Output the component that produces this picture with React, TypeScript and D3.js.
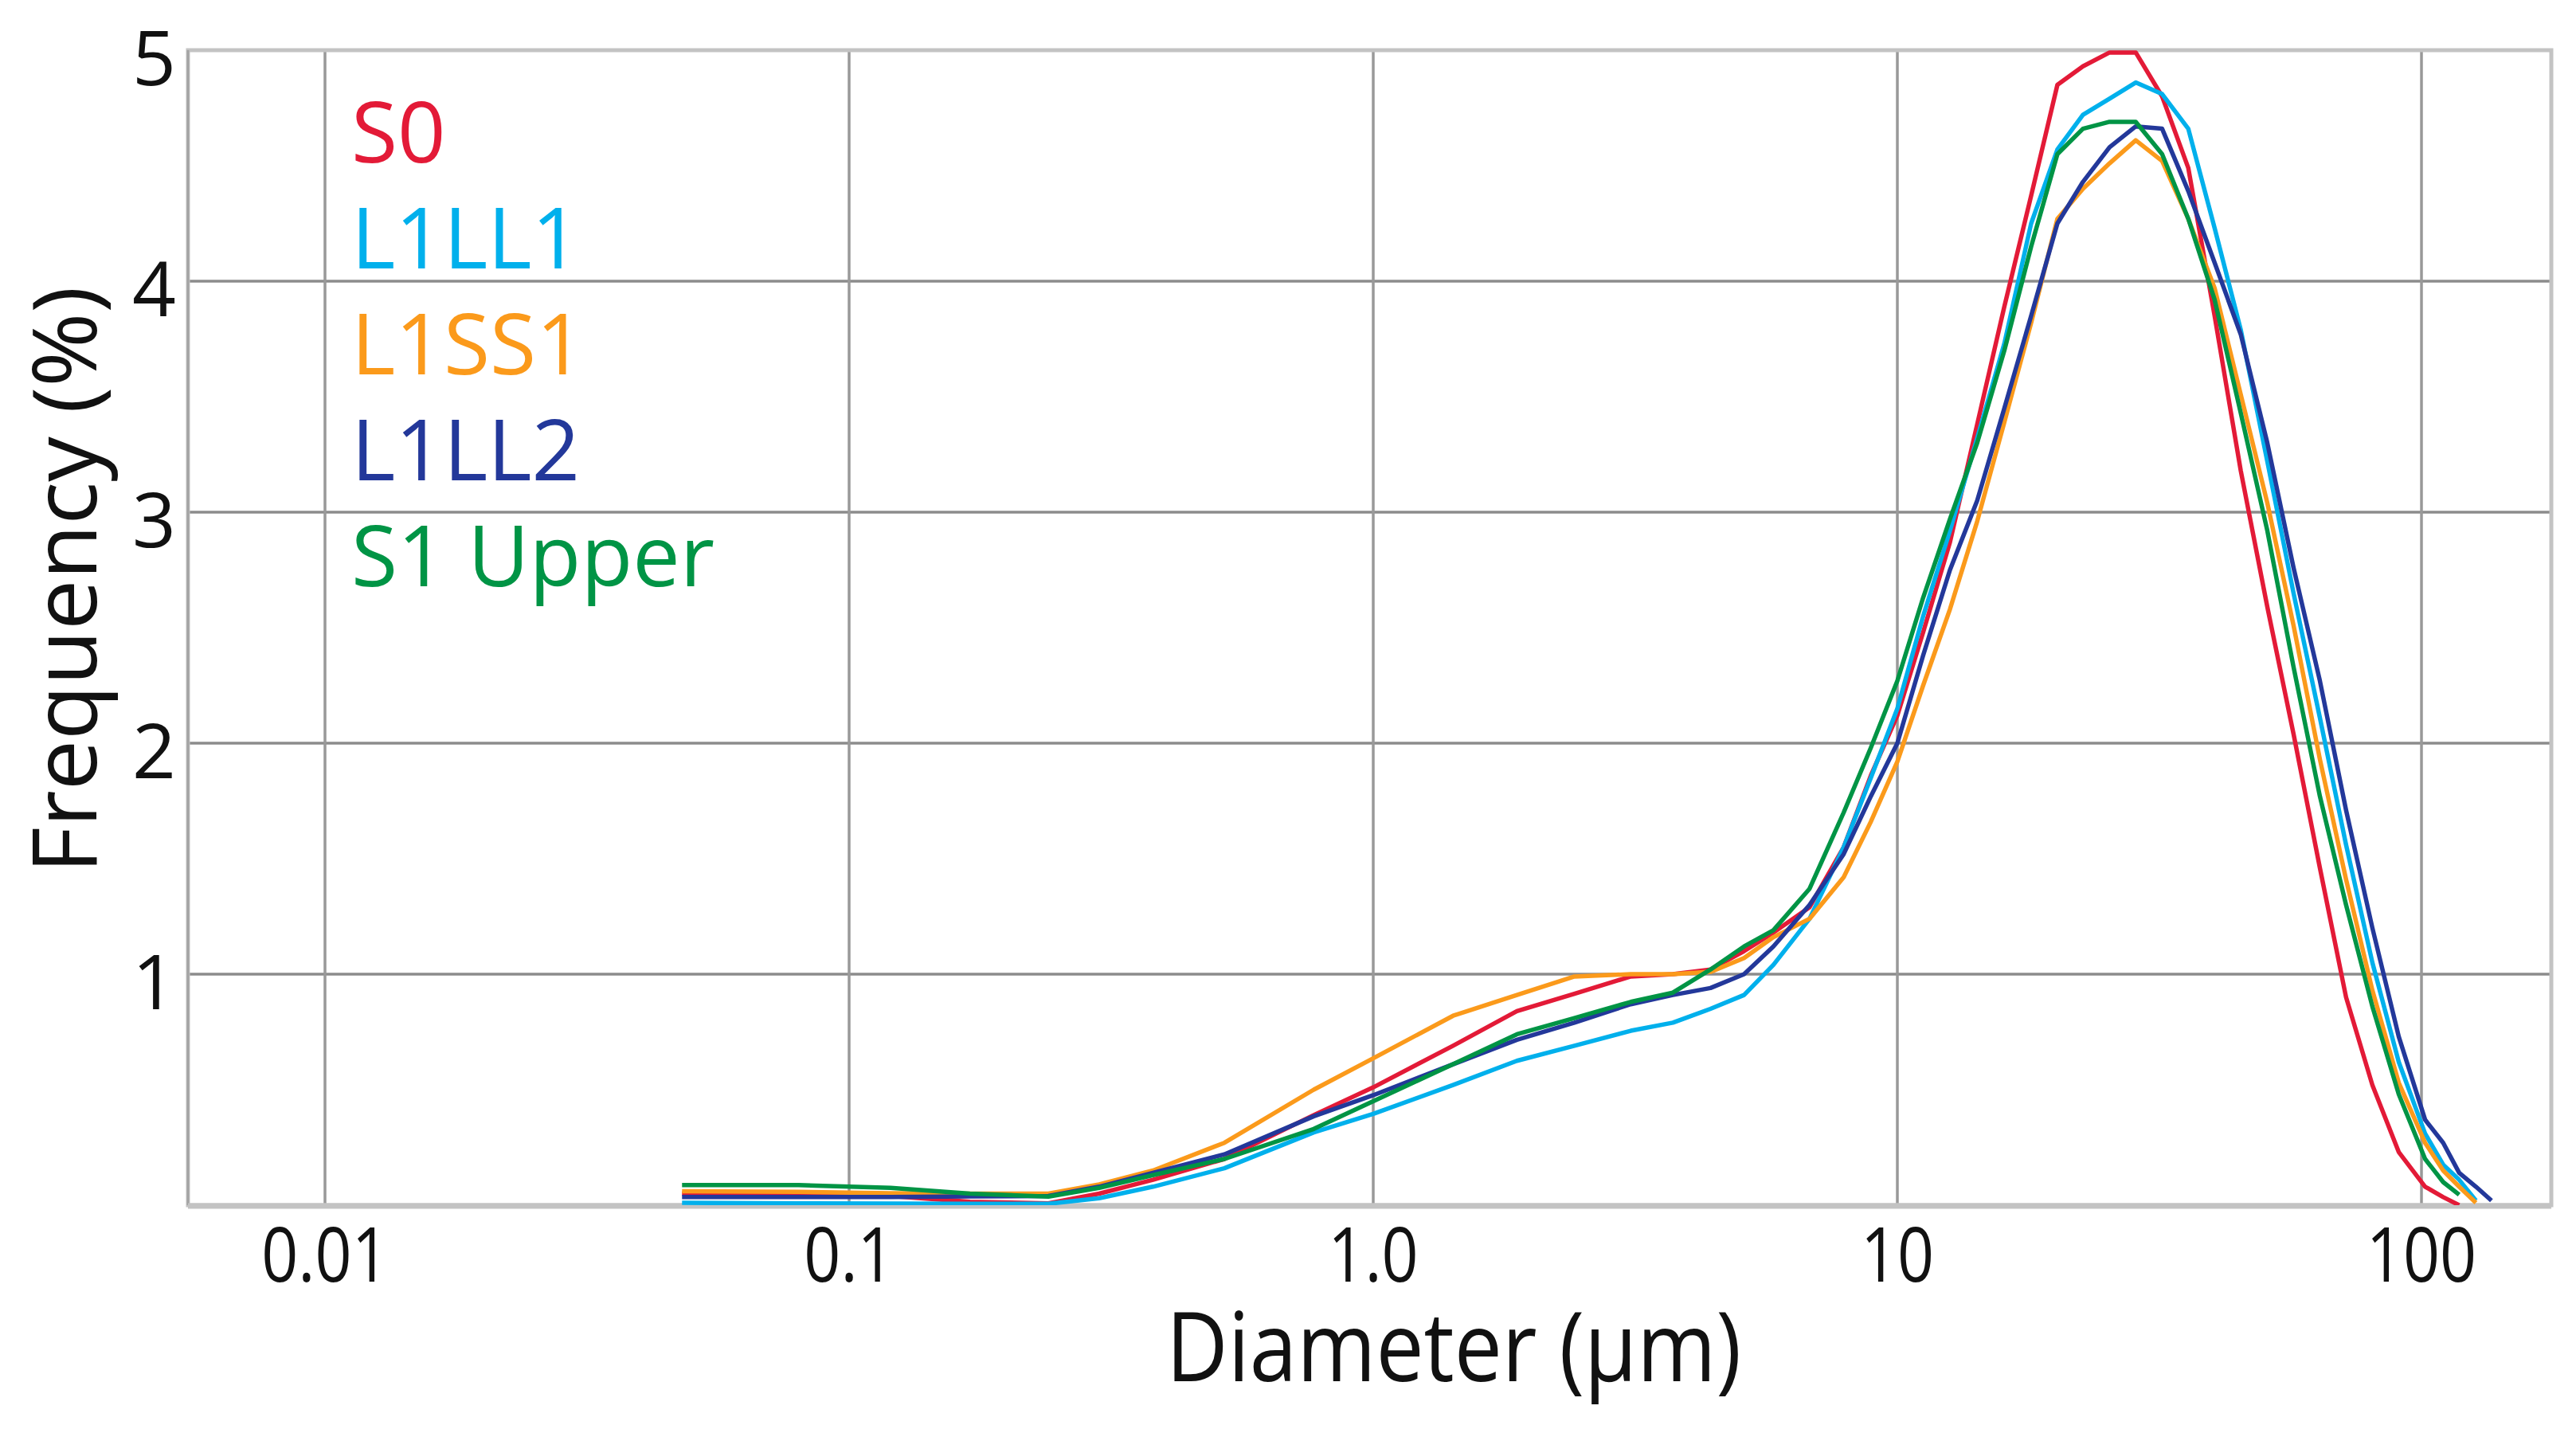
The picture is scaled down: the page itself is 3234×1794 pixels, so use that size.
import * as d3 from 'd3';

// Particle size distribution, frequency (%) against diameter (µm), log x axis.

const DIAMETERS = [
  0.048, 0.08, 0.12, 0.17, 0.24, 0.3, 0.38, 0.52, 0.77, 1.0,
  1.42, 1.88, 2.42, 3.1, 3.73, 4.4, 5.1, 5.8, 6.8, 7.9,
  8.9, 10.0, 11.2, 12.6, 14.2, 16.0, 18.0, 20.2, 22.6, 25.4,
  28.5, 32.0, 35.9, 40.3, 45.2, 50.8, 57.0, 64.0, 71.8, 80.6,
  90.5, 101.6, 110, 118, 127, 136,
];

const S0 = [
  0.05, 0.048, 0.04, 0.015, 0.008, 0.05, 0.11, 0.2, 0.39, 0.51,
  0.69, 0.84, 0.915, 0.99, 1.0, 1.02, 1.1, 1.18, 1.29, 1.55,
  1.86, 2.12, 2.48, 2.87, 3.38, 3.89, 4.37, 4.85, 4.93, 4.99,
  4.99, 4.8, 4.49, 3.85, 3.18, 2.59, 2.04, 1.46, 0.9, 0.52,
  0.23, 0.08, 0.035, 0.0, null, null,
];

const L1LL1 = [
  0.01, 0.008, 0.007, 0.006, 0.006, 0.03, 0.08, 0.16, 0.315, 0.395,
  0.52, 0.625, 0.69, 0.755, 0.79, 0.85, 0.91, 1.04, 1.24, 1.55,
  1.85, 2.15, 2.55, 2.92, 3.32, 3.73, 4.25, 4.57, 4.72, 4.79,
  4.86, 4.81, 4.66, 4.23, 3.79, 3.22, 2.65, 2.11, 1.56, 1.05,
  0.62, 0.31, 0.175, 0.11, 0.02, null,
];

const L1SS1 = [
  0.06, 0.058, 0.052, 0.05, 0.05, 0.09, 0.15, 0.27, 0.5, 0.636,
  0.82, 0.91, 0.99, 1.0, 1.0, 1.01, 1.07, 1.16, 1.24, 1.42,
  1.66, 1.92, 2.25, 2.58, 2.96, 3.39, 3.82, 4.27, 4.4, 4.51,
  4.61, 4.52, 4.27, 3.97, 3.51, 3.04, 2.51, 1.93, 1.41, 0.93,
  0.53, 0.27, 0.15, 0.08, 0.01, null,
];

const L1LL2 = [
  0.035, 0.035, 0.035, 0.038, 0.04, 0.08, 0.14, 0.22, 0.385, 0.476,
  0.61, 0.716, 0.79, 0.87, 0.91, 0.94, 1.0, 1.12, 1.3, 1.52,
  1.77, 2.0, 2.38, 2.75, 3.05, 3.45, 3.85, 4.25, 4.43, 4.58,
  4.67, 4.66, 4.39, 4.08, 3.77, 3.3, 2.76, 2.27, 1.71, 1.2,
  0.73, 0.37, 0.27, 0.14, 0.08, 0.02,
];

const S1_UPPER = [
  0.087, 0.087, 0.075, 0.05, 0.037, 0.075, 0.13, 0.2, 0.33, 0.45,
  0.61, 0.74, 0.81, 0.88, 0.92, 1.02, 1.12, 1.19, 1.37, 1.7,
  1.98, 2.27, 2.63, 2.97, 3.3, 3.7, 4.15, 4.55, 4.66, 4.69,
  4.69, 4.55, 4.27, 3.92, 3.43, 2.92, 2.33, 1.77, 1.3, 0.86,
  0.48, 0.2, 0.1, 0.045, null, null,
];

const SERIES_NAMES = ['S0', 'L1LL1', 'L1SS1', 'L1LL2', 'S1 Upper'];
const SERIES_VALUES = [S0, L1LL1, L1SS1, L1LL2, S1_UPPER];
const SERIES_COLORS = ['#e31a37', '#00b0ec', '#fb9a1b', '#23389a', '#009445'];

const X_TICKS = [0.01, 0.1, 1, 10, 100];
const X_TICK_LABELS = ['0.01', '0.1', '1.0', '10', '100'];
const Y_TICKS = [1, 2, 3, 4, 5];
const Y_GRID = [1, 2, 3, 4];

const WIDTH = 3234;
const HEIGHT = 1794;
const FONT = "'Open Sans', 'Noto Sans', sans-serif";

export default function App() {
  const plot = { left: 236, right: 3203, top: 63, bottom: 1513 };

  const x = d3.scaleLog()
    .domain([Math.pow(10, -2.2614), Math.pow(10, 2.2477)])
    .range([plot.left, plot.right]);

  const y = d3.scaleLinear()
    .domain([0, 5])
    .range([plot.bottom, plot.top]);

  type Pt = { d: number; v: number | null };

  const line = d3.line<Pt>()
    .defined(p => p.v != null)
    .x(p => x(p.d))
    .y(p => y(p.v as number))
    .curve(d3.curveLinear);

  const series = SERIES_NAMES.map((name, i) => ({
    name,
    color: SERIES_COLORS[i],
    points: DIAMETERS.map((d, j) => ({ d, v: SERIES_VALUES[i][j] })),
  }));

  return (
    <>
      <style>{'body{margin:0;}'}</style>
      <svg width={WIDTH} height={HEIGHT} style={{ display: 'block', background: '#fff' }}>
        <defs>
          <clipPath id="plot-clip">
            <rect x={plot.left} y={plot.top - 4} width={plot.right - plot.left} height={plot.bottom - plot.top + 4} />
          </clipPath>
        </defs>

        {/* grid */}
        {Y_GRID.map(v => (
          <line key={'gy' + v} x1={plot.left} x2={plot.right} y1={y(v)} y2={y(v)}
            stroke="#8c8c8c" strokeWidth={3.5} />
        ))}
        {X_TICKS.map(v => (
          <line key={'gx' + v} x1={x(v)} x2={x(v)} y1={plot.top} y2={plot.bottom + 4}
            stroke="#999999" strokeWidth={3.5} />
        ))}

        {/* frame */}
        <rect x={plot.left} y={plot.top} width={plot.right - plot.left} height={plot.bottom - plot.top}
          fill="none" stroke="#c3c3c3" strokeWidth={5} />
        <line x1={plot.left} x2={plot.left} y1={plot.top} y2={plot.bottom} stroke="#a3a3a3" strokeWidth={3} />
        <line x1={plot.left} x2={plot.right} y1={plot.bottom + 1} y2={plot.bottom + 1} stroke="#c3c3c3" strokeWidth={7} />

        {/* curves */}
        <g clipPath="url(#plot-clip)">
          {series.map(s => (
            <path key={s.name} d={line(s.points) || ''} fill="none" stroke={s.color}
              strokeWidth={5.5} strokeLinejoin="round" strokeLinecap="butt" />
          ))}
        </g>

        {/* y tick labels */}
        {Y_TICKS.map(v => (
          <text key={'ty' + v} x={221} y={y(v) + 44} textAnchor="end"
            fontFamily={FONT} fontSize={96} fill="#111">{v}</text>
        ))}

        {/* x tick labels */}
        {X_TICKS.map((v, i) => (
          <text key={'tx' + v} transform={`translate(${x(v)},1609) scale(0.84,1)`}
            textAnchor="middle" fontFamily={FONT} fontSize={96} fill="#111">{X_TICK_LABELS[i]}</text>
        ))}

        {/* axis titles */}
        <text transform="translate(121,728) rotate(-90)" textAnchor="middle"
          fontFamily={FONT} fontSize={112} fill="#111"
          textLength={737} lengthAdjust="spacingAndGlyphs">Frequency (%)</text>
        <text x={1825} y={1734} textAnchor="middle" fontFamily={FONT} fontSize={120} fill="#111"
          textLength={722} lengthAdjust="spacingAndGlyphs">Diameter (µm)</text>

        {/* legend */}
        {series.map((s, i) => (
          <text key={'lg' + s.name} x={441} y={204 + i * 133} fontFamily={FONT} fontSize={106}
            fill={s.color}>{s.name}</text>
        ))}
      </svg>
    </>
  );
}
